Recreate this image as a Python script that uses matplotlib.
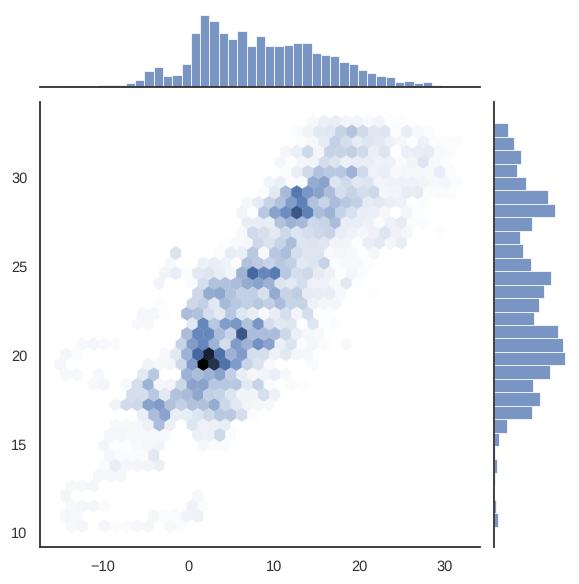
import colorsys
import numpy as np
import matplotlib
matplotlib.use("Agg")
import matplotlib.pyplot as plt
from matplotlib.colors import LinearSegmentedColormap, to_rgb

plt.rcParams['font.family'] = ['Liberation Sans', 'DejaVu Sans']
plt.rcParams['text.hinting'] = 'no_hinting'

W, H = 579, 584
BLUE = "#4C72B0"
INK = "#303030"

# hexbin cells, darkness 0-100 by row: row -> (first column, values)
hex_rows = {
    -16: (-12, [3,4,0,4,2,2,3,4,0,3,2]),
    -15: (-12, [4,3,0,0,0,0,0,0,4,2,2,5,6]),
    -14: (-12, [3,4,4,2,0,0,0,0,0,0,0,6,2]),
    -13: (-12, [4,0,0,0,0,0,0,0,0,0,0,0,3]),
    -12: (-12, [3,3,4]),
    -11: (-9, [4,4,4]),
    -10: (-9, [2,8,4,4,5,7]),
    -9: (-8, [4,2,2,2,10]),
    -8: (-9, [5,1,1,3,4,5,0,0,0,4,2,2]),
    -7: (-8, [4,4,3,3,3,3,0,0,7,6,18,2]),
    -6: (-8, [3,3,3,6,30,7,0,12,6,7,8]),
    -5: (-5, [7,30,42,8,8,12,18,25,25,15,2]),
    -4: (-8, [5,17,18,42,45,28,22,28,28,38,18,10,5,4,3]),
    -3: (-6, [15,15,25,10,28,30,40,22,20,12,5,5,15,6]),
    -2: (-10, [3,4,0,3,15,35,4,5,18,42,42,25,25,25,10,20,2,0,2,1]),
    -1: (-12, [3,3,0,3,0,0,0,10,25,0,0,35,30,35,42,22,8,4,5,7,3]),
    0: (-13, [4,0,0,0,0,0,0,0,5,4,4,18,45,100,85,65,45,20,13,3,0,0,0,2]),
    1: (-12, [4,2,0,0,0,0,0,0,0,3,10,35,70,90,65,35,45,15,15,6,10,4,4]),
    2: (-11, [3,4,3,2,0,0,0,0,0,20,45,55,35,15,45,35,50,42,7,13,2,4,2,0,3]),
    3: (-1, [30,55,55,30,20,75,30,30,30,18,7,4,3]),
    4: (-6, [3,3,0,0,0,10,55,25,45,48,28,48,15,10,12,1,12,1,2]),
    5: (-5, [4,4,1,0,30,28,15,10,25,12,8,3,8,15,5,15,1,1]),
    6: (-4, [1,0,0,18,22,10,32,25,22,25,22,30,20,20,6,4,4]),
    7: (0, [18,38,40,28,22,22,14,38,20,23,9,8,8,3,0,0,1]),
    8: (-4, [5,0,0,2,15,28,28,30,38,42,35,12,10,15,6,6,3,10,1]),
    9: (-3, [5,8,2,10,12,8,5,35,70,55,60,25,15,18,9,6,1,4,2]),
    10: (-3, [3,0,0,6,8,6,2,28,24,20,25,22,10,12,20,2,3,3,1]),
    11: (-2, [13,0,0,0,2,9,7,25,3,25,30,15,12,12,3,4,3,1,4]),
    12: (2, [1,3,4,18,13,20,30,12,13,11,5,5,1,8,10,4,8]),
    13: (4, [3,17,14,10,18,12,15,18,20,8,6,4,6,12,6,4,0,0,1]),
    14: (4, [8,8,8,28,35,32,18,20,30,8,8,6,2,6,9,2,2]),
    15: (4, [5,1,25,42,52,75,58,30,35,20,14,8,7,4,0,4,1]),
    16: (4, [4,9,20,28,45,58,28,20,30,25,22,9,10,7,6,1,2]),
    17: (6, [2,10,32,62,48,42,30,15,20,15,18,4,5,9,9,2,2,2]),
    18: (6, [5,7,2,2,38,42,12,17,10,12,5,6,6,6,5,3,4,2]),
    19: (8, [2,7,17,28,25,25,35,17,6,8,3,4,4,3,8,2]),
    20: (7, [4,1,4,5,15,12,6,8,8,6,6,2,5,12,3,2]),
    21: (8, [4,7,18,4,20,20,22,17,7,12,1,7,8,9,3,2]),
    22: (9, [2,3,9,22,15,9,12,10,6,4,1,6,2,2,2]),
    23: (9, [2,5,10,11,20,27,17,11,12,2,8,3,2]),
    24: (10, [3,7,8,5,5,3,5,1,1]),
}

# top marginal histogram, left to right
top_hist = [1,1,1,0,3,3,3,7,13,31,39,21,23,45,107,143,131,107,95,111,81,101,81,81,
            83,87,87,67,63,61,49,45,33,27,21,19,9,11,7,9,3,1]
# right marginal histogram, top to bottom
right_hist = [41,59,80,68,95,161,182,113,77,86,110,170,149,134,119,
              191,206,212,167,116,137,113,38,14,2,8,2,0,5,11]

x_ticks = [-10, 0, 10, 20, 30]
y_ticks = [10, 15, 20, 25, 30]

# axis calibration, pixels
px_left, px_right, px_top, px_bottom = 40.0, 479.5, 101.5, 547.0
x0_px, x_scale = 188.2, 8.55
y20_px, y_scale = 355.2, 17.77

def axes_rect(l, r, t, b):
    return [l / W, 1 - b / H, (r - l) / W, (b - t) / H]

fig = plt.figure(figsize=(W / 100, H / 100), dpi=100, facecolor="white")
ax = fig.add_axes(axes_rect(px_left, px_right, px_top, px_bottom))
ax_top = fig.add_axes(axes_rect(px_left, px_right, 11.4, 87.0))
ax_right = fig.add_axes(axes_rect(494.0, 568.5, px_top, px_bottom))

xlim = ((px_left - x0_px) / x_scale, (px_right - x0_px) / x_scale)
ylim = (20 + (y20_px - px_bottom) / y_scale, 20 + (y20_px - px_top) / y_scale)

# hex lattice from the black cell
dx = 11.0 / x_scale
dy = 10.12 / y_scale
x_anchor = (203.3 - x0_px) / x_scale
y_anchor = 20 + (y20_px - 364.3) / y_scale

xs, ys, cs = [], [], []
for r, (start, vals) in hex_rows.items():
    for i, v in enumerate(vals):
        if v > 0:
            xs.append(x_anchor + (start + i - (0.5 if r % 2 else 0.0)) * dx)
            ys.append(y_anchor + r * dy)
            cs.append(v)
shade = np.interp(cs, [0, 70, 100], [0, 0.55, 1.0])

nx, ny = 40, 22
# extent placed so the lattice falls on the anchor
ext_x0 = x_anchor - 14 * dx
ext_y0 = y_anchor - 18 * dy
extent = (ext_x0, ext_x0 + nx * dx, ext_y0, ext_y0 + ny * 2 * dy)

h, l, s = colorsys.rgb_to_hls(*to_rgb(BLUE))
colors = [colorsys.hls_to_rgb(h, li, s) for li in np.linspace(1, 0, 12)]
cmap = LinearSegmentedColormap.from_list("blend", colors)

ax.hexbin(xs, ys, C=shade, gridsize=(nx, ny), extent=extent, cmap=cmap, vmin=0, vmax=1,
          reduce_C_function=np.sum, mincnt=0, linewidths=0.2)
ax.set_xlim(xlim)
ax.set_ylim(ylim)
ax.set_xticks(x_ticks)
ax.set_yticks(y_ticks)
ax.tick_params(length=0, labelsize=10.5, colors=INK)
ax.tick_params(axis="x", pad=9)
ax.tick_params(axis="y", pad=9)
for side in ("top", "right"):
    ax.spines[side].set_visible(False)
for side in ("left", "bottom"):
    ax.spines[side].set_color(INK)
    ax.spines[side].set_linewidth(1.3)

# top marginal
bin_w = 9.283 / x_scale
bin_x0 = (60.87 - x0_px) / x_scale
edges_x = bin_x0 + np.arange(len(top_hist)) * bin_w
ax_top.bar(edges_x, top_hist, width=bin_w, align="edge", color=BLUE, alpha=0.75,
           edgecolor="white", linewidth=0.75)
ax_top.set_xlim(xlim)
ax_top.set_ylim(0, max(top_hist) * 1.05)

# right marginal
bin_h = 13.45 / y_scale
bin_y0 = 20 + (y20_px - 526.7) / y_scale
rev = right_hist[::-1]
edges_y = bin_y0 + np.arange(len(rev)) * bin_h
ax_right.barh(edges_y, rev, height=bin_h, align="edge", color=BLUE, alpha=0.75,
              edgecolor="white", linewidth=0.75)
ax_right.set_ylim(ylim)
ax_right.set_xlim(0, max(right_hist) * 1.05)

for a, keep in ((ax_top, "bottom"), (ax_right, "left")):
    a.set_xticks([])
    a.set_yticks([])
    for side in ("top", "right", "left", "bottom"):
        a.spines[side].set_visible(side == keep)
    a.spines[keep].set_color(INK)
    a.spines[keep].set_linewidth(1.3)
    a.patch.set_alpha(0)

fig.savefig("out.png", dpi=100)
